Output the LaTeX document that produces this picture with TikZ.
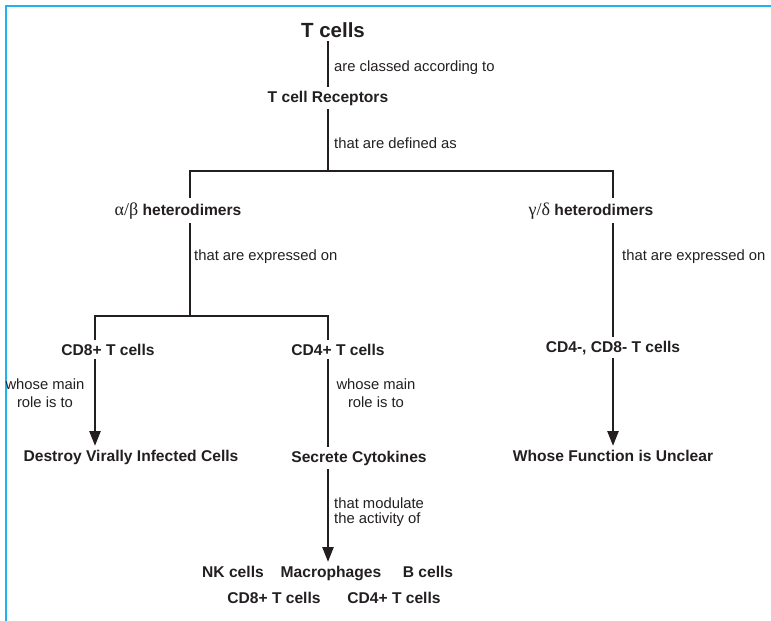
\documentclass[tikz,border=0pt]{standalone}
\usepackage{fontspec}
\setmainfont{Liberation Sans}
\newfontfamily\grk{Liberation Serif}
\usetikzlibrary{arrows.meta,backgrounds}

\definecolor{ink}{RGB}{35,31,32}
\definecolor{rim}{RGB}{30,180,240}

\tikzset{
  term/.style={fill=white, inner sep=4pt, anchor=base, text=ink, font=\fontsize{15.6}{18}\selectfont\bfseries},
  verb/.style={inner sep=0pt, text=ink, font=\fontsize{14.8}{18}\selectfont},
  link/.style={draw=ink, line width=2.5pt},
  tip/.style={-{Triangle[length=15pt,width=11pt]}},
}
\newcommand\gr[1]{{\grk\mdseries\fontsize{18}{20}\selectfont #1}}

\begin{document}
\begin{tikzpicture}[x=1pt,y=-1pt]
\useasboundingbox (0,0) rectangle (771,621);
\draw[rim, line width=1.5pt] (6,621) -- (6,6) -- (771,6);

% cell types and receptors
\node[term, font=\fontsize{20.5}{24}\selectfont\bfseries] (tcells) at (333,37) {T cells};
\node[term] (rec) at (328,102) {T cell Receptors};
\node[term] (ab) at (178,215) {\gr{α/β} heterodimers};
\node[term] (gd) at (591,215) {\gr{γ/δ} heterodimers};
\node[term] (cdeight) at (108,355) {CD8+ T cells};
\node[term] (cdfour) at (338,355) {CD4+ T cells};
\node[term] (dneg) at (613,352) {CD4-, CD8- T cells};
\node[term] (destroy) at (131,461.5) {Destroy Virally Infected Cells};
\node[term] (secrete) at (359,462) {Secrete Cytokines};
\node[term] (unclear) at (613,461.5) {Whose Function is Unclear};
\node[term] (nk) at (233,577.5) {NK cells};
\node[term] (macro) at (331,577.5) {Macrophages};
\node[term] (bcell) at (428,577.5) {B cells};
\node[term] (cdeightb) at (274,603.5) {CD8+ T cells};
\node[term] (cdfourb) at (394,603.5) {CD4+ T cells};

% phrases along the links
\node[verb, anchor=base west] (classed) at (334,71) {are classed according to};
\node[verb, anchor=base west] (defined) at (334,148) {that are defined as};
\node[verb, anchor=base west] (exprL) at (194,260.5) {that are expressed on};
\node[verb, anchor=base west] (exprR) at (622,260.5) {that are expressed on};
\node[verb, align=center] (roleL) at (45,393) {whose main\\role is to};
\node[verb, align=center] (roleR) at (376,393) {whose main\\role is to};
\node[verb, anchor=west, align=left, font=\fontsize{14.8}{15}\selectfont] (modul) at (334,512) {that modulate\\the activity of};

\coordinate (split) at (328,171);
\coordinate (ableg) at (190,171);
\coordinate (gdleg) at (613,171);
\coordinate (abfork) at (190,316);
\coordinate (forkL) at (95,316);
\coordinate (forkR) at (328,316);

\begin{scope}[on background layer]
\draw[link] (split |- tcells.center) -- (split);
\draw[link] (split) -- (ableg) -- (abfork);
\draw[link, tip] (split) -- (gdleg) -- (gdleg |- unclear.north);
\draw[link, tip] (abfork) -- (forkL) -- (forkL |- destroy.north);
\draw[link, tip] (abfork) -- (forkR) -- (forkR |- macro.north);
\end{scope}
\end{tikzpicture}
\end{document}
